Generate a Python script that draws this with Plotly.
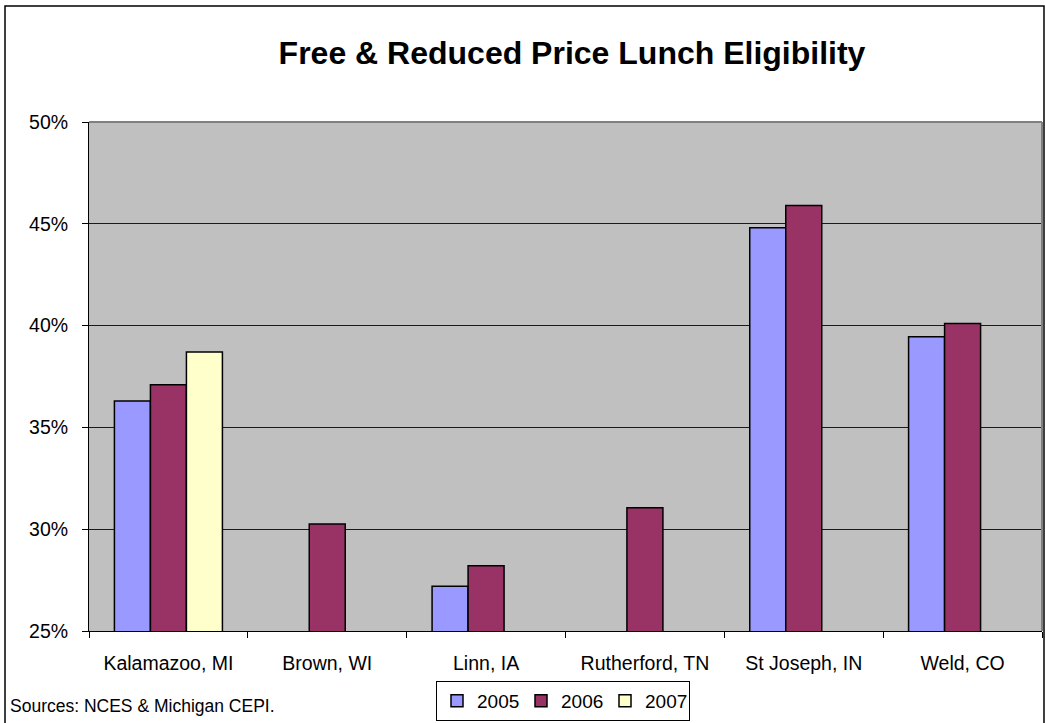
import plotly.graph_objects as go

categories = ["Kalamazoo, MI", "Brown, WI", "Linn, IA", "Rutherford, TN", "St Joseph, IN", "Weld, CO"]
v2005 = [36.3, None, 27.2, None, 44.8, 39.45]
v2006 = [37.1, 30.25, 28.2, 31.05, 45.9, 40.1]
v2007 = [38.7, None, None, None, None, None]
series_names = ["2005", "2006", "2007"]
series_colors = ["#9999FF", "#993366", "#FFFFCC"]
y_ticks = [25, 30, 35, 40, 45, 50]
y_tick_labels = ["25%", "30%", "35%", "40%", "45%", "50%"]

W, H = 1045, 723
L, R, T, B = 89, 3, 122, 92
pw, ph = W - L - R, H - T - B

def px_x(x):
    return (x - L) / pw

def px_y(y):
    return (H - B - y) / ph

fig = go.Figure()
for name, vals, col in zip(series_names, [v2005, v2006, v2007], series_colors):
    fig.add_trace(go.Bar(
        x=categories, y=vals, name=name,
        marker=dict(color=col, line=dict(color="#000000", width=1.5)),
    ))

font_family = "Liberation Sans, Arial, sans-serif"

fig.update_layout(
    width=W, height=H,
    margin=dict(l=L, r=R, t=T, b=B, autoexpand=False),
    paper_bgcolor="white",
    plot_bgcolor="#C0C0C0",
    barmode="group",
    bargap=0.32,
    bargroupgap=0,
    font=dict(family=font_family, size=19.5, color="black"),
    title=dict(
        text="<b>Free & Reduced Price Lunch Eligibility</b>",
        x=px_x(572), xref="paper", xanchor="center",
        y=1 - 53 / H, yref="container", yanchor="middle",
        font=dict(size=32, family=font_family, color="black"),
    ),
    showlegend=True,
    legend=dict(
        orientation="h",
        x=px_x(563), xanchor="center",
        y=px_y(681), yanchor="top",
        bordercolor="black", borderwidth=1,
        bgcolor="white",
        font=dict(size=19),
        itemwidth=30,
        entrywidth=39, entrywidthmode="pixels",
        traceorder="normal",
    ),
    xaxis=dict(
        type="category",
        showline=True, linecolor="black", linewidth=1,
        ticks="outside", ticklen=6, tickcolor="black",
        tickson="boundaries",
        showgrid=False,
        tickfont=dict(size=19.5),
        ticklabelstandoff=15,
    ),
    yaxis=dict(
        range=[25, 50],
        tickvals=y_ticks,
        ticktext=y_tick_labels,
        showline=True, linecolor="black", linewidth=1,
        ticks="outside", ticklen=6, tickcolor="black",
        showgrid=True, gridcolor="#1a1a1a", gridwidth=1,
        zeroline=False,
        tickfont=dict(size=19.5),
        ticklabelstandoff=10,
    ),
    shapes=[
        dict(type="line", xref="x domain", yref="y domain", x0=0, x1=1, y0=1, y1=1,
             line=dict(color="#808080", width=2), layer="above"),
        dict(type="line", xref="x domain", yref="y domain", x0=1, x1=1, y0=0, y1=1,
             line=dict(color="#808080", width=2), layer="above"),
        dict(type="rect", xref="paper", yref="paper",
             x0=px_x(5), x1=px_x(1044), y0=px_y(735), y1=px_y(6),
             line=dict(color="#000000", width=1.5), fillcolor="rgba(0,0,0,0)", layer="above"),
    ],
    annotations=[
        dict(text="Sources: NCES & Michigan CEPI.", xref="paper", yref="paper",
             x=px_x(8), y=px_y(706), xanchor="left", yanchor="middle",
             showarrow=False, font=dict(size=17.5, family=font_family, color="black")),
    ],
)

fig.write_html("out.html", config={"displayModeBar": False},
               post_script="document.body.style.margin='0';")
